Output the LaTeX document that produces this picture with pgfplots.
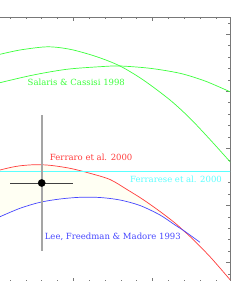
\documentclass[border=0pt]{standalone}
\usepackage{pgfplots}
\pgfplotsset{compat=1.18}
\usepgfplotslibrary{fillbetween}
\usepackage{fontspec}
\newfontfamily\lblfont{DejaVu Serif}
\definecolor{axgray}{RGB}{120,120,120}
\definecolor{pgreen}{RGB}{60,255,60}
\definecolor{pred}{RGB}{255,60,60}
\definecolor{pblue}{RGB}{70,70,255}
\definecolor{pcyan}{RGB}{90,255,255}
\definecolor{ivory}{RGB}{255,255,243}
\definecolor{ebgray}{RGB}{165,165,165}
\begin{document}
\begin{tikzpicture}
\begin{axis}[
  set layers,
  scale only axis,
  width=235pt, height=265.5pt,
  xmin=-5, xmax=230,
  ymin=17, ymax=282.5,
  y dir=reverse,
  axis line style={axgray, line width=0.8pt},
  tick style={axgray, line width=0.7pt},
  major tick length=4.5pt,
  minor tick length=2.3pt,
  tick align=inside,
  xtick pos=both, ytick pos=both,
  xtick={73.4,152.65},
  minor xtick={10,25.85,41.7,57.55,89.25,105.1,120.95,136.8,168.5,184.35,200.2,216.05},
  ytick={34.3,91.4,148.5,205.6,262.7},
  minor ytick={22.9,45.7,57.1,68.6,80.0,102.8,114.2,125.7,137.1,159.9,171.3,182.8,194.2,217.0,228.4,239.8,251.3,274.1},
  xticklabels={}, yticklabels={},
]
\coordinate (bbtl) at (axis cs:0,0);
\coordinate (bbbr) at (axis cs:247,281);

% Ferraro et al. 2000 (red)
\addplot[name path=red, pred, line width=0.7pt, smooth] coordinates {
(-5,171.5) (0,170) (10,167.6) (20,165.8) (35,164.7) (50,165.3) (70,168.3) (90,173.3)
(110,179.5) (127,189.5) (143,199.5) (160,211.5) (175,223) (185,232) (190,236.5)
(210,256.7) (232,282)};
% Lee, Freedman & Madore 1993 (blue)
\addplot[name path=blue, pblue, line width=0.7pt, smooth] coordinates {
(-5,219) (0,216.7) (20,208.3) (40,202.3) (60,199) (80,197.3) (100,197.5) (120,200)
(140,205.5) (160,215) (175,225) (185,231.5) (200,242.3)};
\addplot[ivory] fill between[of=red and blue, soft clip={domain=-5:183}];

% Salaris & Cassisi 1998 (green)
\addplot[pgreen, line width=0.7pt, smooth] coordinates {
(-5,56) (0,54.3) (20,50) (43.3,47) (56.7,47.3) (73.3,50) (96.7,56.7) (120,66)
(143.3,80) (170,100) (190,118.3) (210,139.5) (230,161.7) (235,167.5)};
\addplot[pgreen, line width=0.7pt, smooth] coordinates {
(-5,84.5) (0,82.7) (33.3,75) (66.7,69.3) (100,66.7) (120,66) (150,68.3) (180,73.3)
(205,81) (230,91.7) (235,93.5)};

% Ferrarese et al. 2000 (cyan)
\addplot[pcyan, line width=0.7pt] coordinates {(-5,171) (235,171)};

% data point with error bars
\addplot[draw=none, mark=none, error bars/.cd, y dir=both, y explicit,
  error mark=none, error bar style={ebgray, line width=1.6pt}]
  coordinates {(41.7,183) +- (0,68.3)};
\addplot[draw=none, mark=none, error bars/.cd, x dir=both, x explicit,
  error mark=none, error bar style={black!75, line width=0.9pt}]
  coordinates {(41.7,183) +- (31.7,0)};
\addplot[only marks, mark=*, mark size=3.6pt, black] coordinates {(41.7,183)};

\node[anchor=base, text=pgreen, font=\lblfont\fontsize{8.5}{9}\selectfont, inner sep=0pt] at (axis cs:76.3,86) {Salaris \& Cassisi 1998};
\node[anchor=base, text=pred, font=\lblfont\fontsize{8.5}{9}\selectfont, inner sep=0pt] at (axis cs:91.2,160.3) {Ferraro et al. 2000};
\node[anchor=base, text=pcyan, font=\lblfont\fontsize{8.5}{9}\selectfont, inner sep=0pt] at (axis cs:176,183) {Ferrarese et al. 2000};
\node[anchor=base, text=pblue, font=\lblfont\fontsize{8.5}{9}\selectfont, inner sep=0pt] at (axis cs:112.8,239.5) {Lee, Freedman \& Madore 1993};
\end{axis}
\pgfresetboundingbox
\useasboundingbox (bbtl) rectangle (bbbr);
\end{tikzpicture}
\end{document}
